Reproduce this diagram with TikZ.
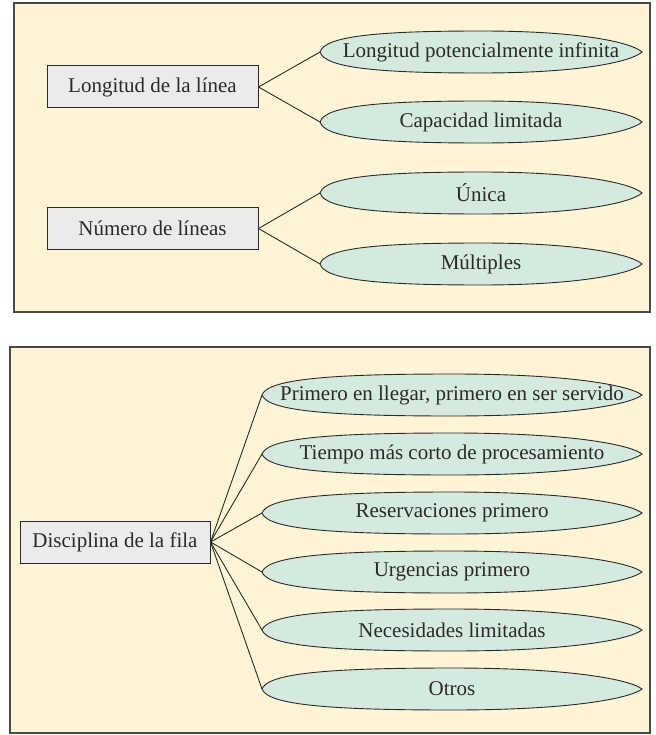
\documentclass[tikz,border=0pt]{standalone}
\usepackage{fontspec}
\setmainfont{Liberation Serif}
\definecolor{panelfill}{HTML}{FFF4D6}
\definecolor{lensfill}{HTML}{D5EADF}
\definecolor{boxfill}{HTML}{ECEAEC}
\definecolor{edgecol}{HTML}{2A2A2A}
\tikzset{
  panel/.style={draw=edgecol!85, fill=panelfill, line width=1.3pt},
  catbox/.style={draw=edgecol, fill=boxfill, line width=1pt, minimum height=42pt, inner sep=0pt, font=\fontsize{21}{24}\selectfont, text=edgecol},
  lensline/.style={draw=edgecol, fill=lensfill, line width=0.9pt},
  lenstext/.style={inner sep=0pt, font=\fontsize{21}{24}\selectfont, text=edgecol},
  link/.style={draw=edgecol, line width=0.9pt}
}
\newcommand\mylens[5]{%
  \pgfmathsetmacro\lw{#3-#2}%
  \draw[lensline] (#2,#4) .. controls (#2+0.015*\lw,#4-16) and (#2+0.18*\lw,#4-21) .. (#2+0.5*\lw,#4-21)
     .. controls (#2+0.82*\lw,#4-21) and (#3-0.03*\lw,#4-9) .. (#3,#4)
     .. controls (#3-0.03*\lw,#4+9) and (#2+0.82*\lw,#4+21) .. (#2+0.5*\lw,#4+21)
     .. controls (#2+0.18*\lw,#4+21) and (#2+0.015*\lw,#4+16) .. (#2,#4) -- cycle;
  \coordinate (#1tip) at (#2,#4);
  \node[lenstext] (#1) at ({(#2+#3)/2},#4) {#5};
}
\begin{document}
\begin{tikzpicture}[x=1pt,y=-1pt]
\useasboundingbox (0,0) rectangle (655,735);
% panels
\draw[panel] (14,3) rectangle (650,312);
\draw[panel] (10,347) rectangle (650,733);
% top panel
\node[catbox, minimum width=211pt] (longitud) at (152.5,87) {Longitud de la línea};
\node[catbox, minimum width=211pt] (numero) at (152.5,228.5) {Número de líneas};
\mylens{pot}{320}{642}{52}{Longitud potencialmente infinita}
\mylens{cap}{320}{642}{122}{Capacidad limitada}
\mylens{uni}{320}{642}{193}{Única}
\mylens{mul}{320}{642}{264}{Múltiples}
\draw[link] (longitud.east) -- (pottip);
\draw[link] (longitud.east) -- (captip);
\draw[link] (numero.east) -- (unitip);
\draw[link] (numero.east) -- (multip);
% bottom panel
\node[catbox, minimum width=190pt] (disc) at (115,542) {Disciplina de la fila};
\mylens{pep}{262}{642}{395}{Primero en llegar, primero en ser servido}
\mylens{tmc}{262}{642}{454}{Tiempo más corto de procesamiento}
\mylens{res}{262}{642}{513}{Reservaciones primero}
\mylens{urg}{262}{642}{572}{Urgencias primero}
\mylens{nec}{262}{642}{630}{Necesidades limitadas}
\mylens{otr}{262}{642}{689}{Otros}
\foreach \t in {pep,tmc,res,urg,nec,otr}{
  \draw[link] (disc.east) -- (\t tip);
}
\end{tikzpicture}
\end{document}
